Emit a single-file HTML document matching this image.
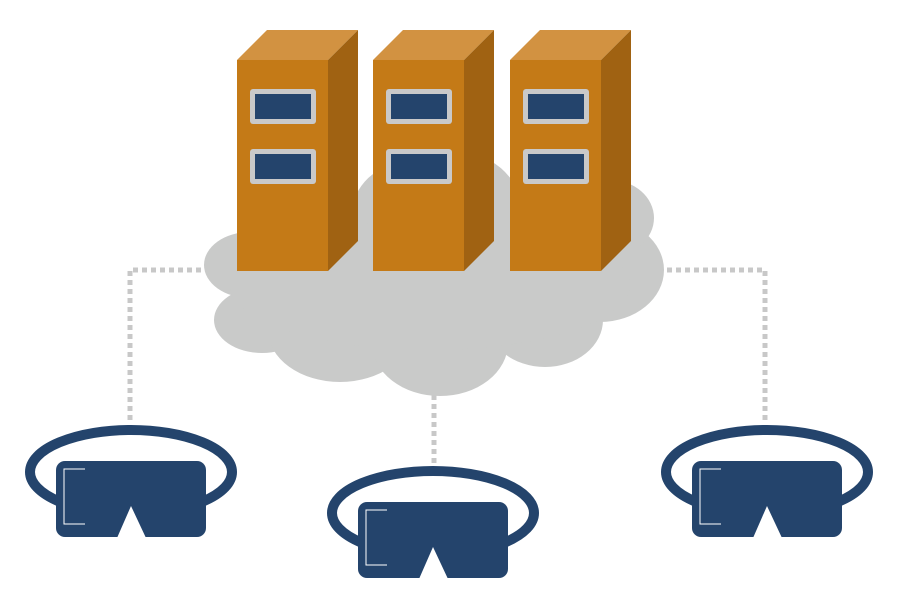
<!DOCTYPE html>
<html><head><meta charset="utf-8"><style>html,body{margin:0;padding:0;background:#fff}svg{display:block}</style></head>
<body>
<svg width="900" height="600" viewBox="0 0 900 600" xmlns="http://www.w3.org/2000/svg">
<g fill="none" stroke="#c8c8c8" stroke-width="5" stroke-dasharray="5 4">
<polyline points="130,420 130,270 205,270"/>
<polyline points="765,420 765,270 665,270"/>
<line x1="434" y1="395" x2="434" y2="466"/>
</g>
<g fill="#c9cac9">
<ellipse cx="250" cy="265" rx="46" ry="33"/>
<ellipse cx="262" cy="320" rx="48" ry="33"/>
<ellipse cx="340" cy="330" rx="72" ry="52"/>
<ellipse cx="440" cy="343" rx="68" ry="53"/>
<ellipse cx="545" cy="320" rx="58" ry="47"/>
<ellipse cx="600" cy="270" rx="64" ry="52"/>
<ellipse cx="610" cy="218" rx="44" ry="38"/>
<ellipse cx="450" cy="212" rx="72" ry="62"/>
<ellipse cx="400" cy="222" rx="50" ry="57"/>
<ellipse cx="430" cy="285" rx="200" ry="65"/>
</g>
<defs>
<g id="srv">
<polygon points="0,30 30,0 121,0 91,30" fill="#d29241"/>
<polygon points="91,30 121,0 121,211 91,241" fill="#a06212"/>
<rect x="0" y="30" width="91" height="211" fill="#c47a17"/>
<rect x="13" y="59" width="66" height="35" rx="3" fill="#c9c9c9"/>
<rect x="18" y="64" width="56" height="25" fill="#24446c"/>
<rect x="13" y="119" width="66" height="35" rx="3" fill="#c9c9c9"/>
<rect x="18" y="124" width="56" height="25" fill="#24446c"/>
</g>
<g id="vr">
<ellipse cx="0" cy="0" rx="101" ry="42" fill="none" stroke="#24446c" stroke-width="10"/>
<rect x="-75" y="-11" width="150" height="76" rx="9" fill="#24446c"/>
<polygon points="-14,66 0,34 15,66" fill="#fff"/>
<polyline points="-46,-3 -67,-3 -67,52 -46,52" fill="none" stroke="#fff" stroke-width="1"/>
</g>
</defs>
<use href="#srv" x="237" y="30"/>
<use href="#srv" x="373" y="30"/>
<use href="#srv" x="510" y="30"/>
<use href="#vr" x="131" y="472"/>
<use href="#vr" x="433" y="513"/>
<use href="#vr" x="767" y="472"/>
</svg>
</body></html>
